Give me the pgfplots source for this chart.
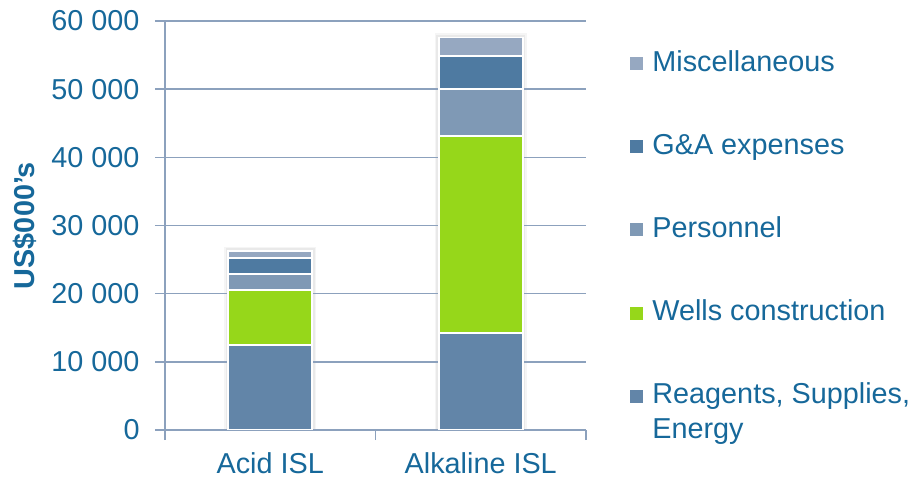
\documentclass[border=0pt]{standalone}
\usepackage{fontspec}
\setmainfont{Liberation Sans}
\usepackage{pgfplots}
\pgfplotsset{compat=1.18}

\definecolor{txt}{RGB}{22,104,154}
\definecolor{gridc}{RGB}{140,161,189}
\definecolor{reag}{RGB}{98,133,168}
\definecolor{wells}{RGB}{150,215,26}
\definecolor{pers}{RGB}{127,153,181}
\definecolor{gna}{RGB}{78,122,161}
\definecolor{misc}{RGB}{150,168,193}

\begin{document}
\begin{tikzpicture}[font=\fontsize{14.4}{17.5}\selectfont]
\pgfplotsset{
  frame/.style={
    width=210.5pt, height=204.5pt, scale only axis,
    xmin=-0.5, xmax=1.5, ymin=0, ymax=60000,
    bar width=42pt, scaled y ticks=false,
  }
}
% soft shadow behind the two stacks (totals)
\begin{axis}[frame, hide axis, ybar, bar shift=0pt]
  \addplot[fill=none, draw=black, draw opacity=0.04, line width=4pt]
    coordinates {(0,26300) (1,57600)};
  \addplot[fill=none, draw=black, draw opacity=0.05, line width=2.4pt]
    coordinates {(0,26300) (1,57600)};
\end{axis}

\begin{axis}[frame, ybar stacked,
  axis lines=left,
  axis line style={-, gridc, line width=1pt},
  tick align=outside,
  tick style={gridc, line width=0.8pt},
  major tick length=5pt,
  ytick={0,10000,20000,30000,40000,50000,60000},
  yticklabels={0,10 000,20 000,30 000,40 000,50 000,60 000},
  yticklabel style={text=txt, xshift=-4.2pt},
  ymajorgrids,
  major grid style={gridc, line width=0.75pt},
  xtick={-0.5,0.5,1.5},
  xticklabels={,,},
  extra x ticks={0,1},
  extra x tick labels={Acid ISL,Alkaline ISL},
  extra x tick style={major tick length=0pt,
    xticklabel style={text=txt, yshift=-7.7pt}},
  ylabel={\bfseries US\$000's},
  every axis y label/.style={at={(axis description cs:-0.3088,0.5)},
    rotate=90, anchor=base, text=txt},
  reverse legend,
  legend cell align=left,
  legend image code/.code={\fill[#1, draw=none] (0pt,0.6pt) rectangle (6.5pt,7.1pt);},
  legend style={at={(axis description cs:1,1)}, anchor=north west,
    xshift=22pt, yshift=-14.35pt, draw=none, fill=none, inner sep=0pt,
    row sep=28.1pt, column sep=4.5pt, text=txt,
    nodes={inner sep=0pt, text height=10.5pt, text depth=3pt, anchor=base west}},
]
  \addplot[fill=reag, draw=white, line width=0.8pt] coordinates {(0,12500) (1,14200)};
  \addlegendentry{{\begin{tabular}[t]{@{}l@{}}Reagents, Supplies,\\Energy\end{tabular}}}
  \addplot[fill=wells, draw=white, line width=0.8pt] coordinates {(0,8000) (1,28900)};
  \addlegendentry{Wells construction}
  \addplot[fill=pers, draw=white, line width=0.8pt] coordinates {(0,2400) (1,6900)};
  \addlegendentry{Personnel}
  \addplot[fill=gna, draw=white, line width=0.8pt] coordinates {(0,2300) (1,4900)};
  \addlegendentry{G\&A expenses}
  \addplot[fill=misc, draw=white, line width=0.8pt] coordinates {(0,1100) (1,2700)};
  \addlegendentry{Miscellaneous}
\end{axis}
\pgfresetboundingbox
\path[use as bounding box] (-82.5pt,-25.5pt) rectangle (375pt,215pt);
\end{tikzpicture}
\end{document}
